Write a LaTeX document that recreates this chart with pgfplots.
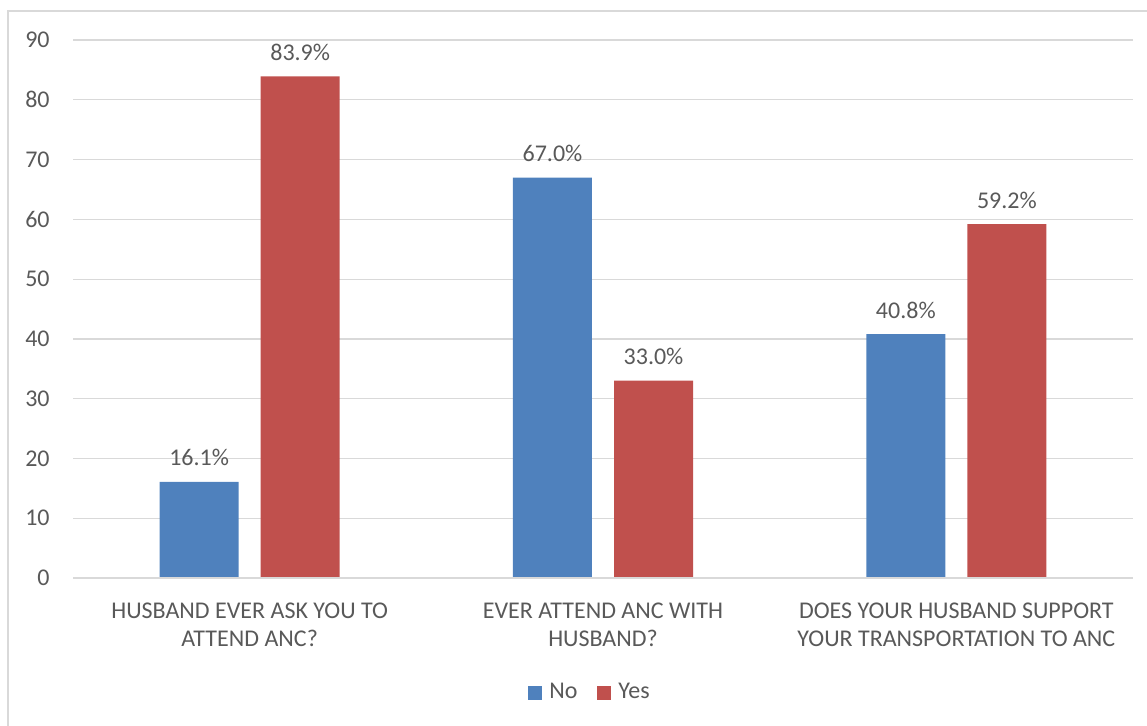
\documentclass[border=0pt]{standalone}
\usepackage{pgfplots}
\pgfplotsset{compat=1.18}
\usepackage{fontspec}
\setmainfont{Carlito}
\definecolor{cblue}{HTML}{4F81BD}
\definecolor{cred}{HTML}{C0504D}
\definecolor{cgrid}{HTML}{D9D9D9}
\definecolor{ctext}{HTML}{595959}
\begin{document}
\begin{tikzpicture}
\useasboundingbox (-36.5pt,-73.5pt) rectangle (537pt,289pt);
\draw[cgrid, line width=0.6pt] (-32.5pt,-80pt) -- (-32.5pt,283.5pt) -- (545pt,283.5pt);
\begin{axis}[
  at={(0pt,0pt)}, anchor=south west,
  scale only axis,
  width=530pt, height=269pt,
  xmin=-0.5, xmax=2.5,
  ymin=0, ymax=90,
  ytick={0,10,...,90},
  xtick={0,1,2},
  xticklabels={{HUSBAND EVER ASK YOU TO\\ATTEND ANC?},{EVER ATTEND ANC WITH\\HUSBAND?},{DOES YOUR HUSBAND SUPPORT\\YOUR TRANSPORTATION TO ANC}},
  xticklabel style={align=center, anchor=north, inner sep=0pt, yshift=-12.5pt, font=\fontsize{12}{14}\selectfont, text=ctext},
  yticklabel style={anchor=east, inner sep=0pt, xshift=-11.5pt, font=\fontsize{12}{14}\selectfont, text=ctext},
  /pgf/number format/assume math mode=true,
  major tick length=0pt,
  axis line style={draw=none},
  ymajorgrids, grid style={cgrid, line width=0.6pt},
  ybar, bar width=0.2236,
  nodes near coords={\pgfmathprintnumber[fixed,fixed zerofill,precision=1]{\pgfplotspointmeta}\%},
  nodes near coords style={anchor=center, yshift=12pt, font=\fontsize{12}{14}\selectfont, text=ctext},
  legend style={at={(0.4887,-0.213)}, anchor=center, draw=none, legend columns=2, font=\fontsize{12}{14}\selectfont, text=ctext, /tikz/every even column/.append style={column sep=8pt}, /tikz/every odd column/.append style={column sep=1.5pt}},
  legend image code/.code={\fill[#1] (0pt,-3.5pt) rectangle (7pt,3.5pt);},
  clip=false,
]
\addplot[fill=cblue, draw=none, bar shift=-0.143] coordinates {(0,16.1) (1,67.0) (2,40.8)};
\addplot[fill=cred, draw=none, bar shift=0.143] coordinates {(0,83.9) (1,33.0) (2,59.2)};
\draw[cgrid, line width=0.8pt] (axis cs:-0.5,0) -- (axis cs:2.5,0);
\legend{No,Yes}
\end{axis}
\end{tikzpicture}
\end{document}
